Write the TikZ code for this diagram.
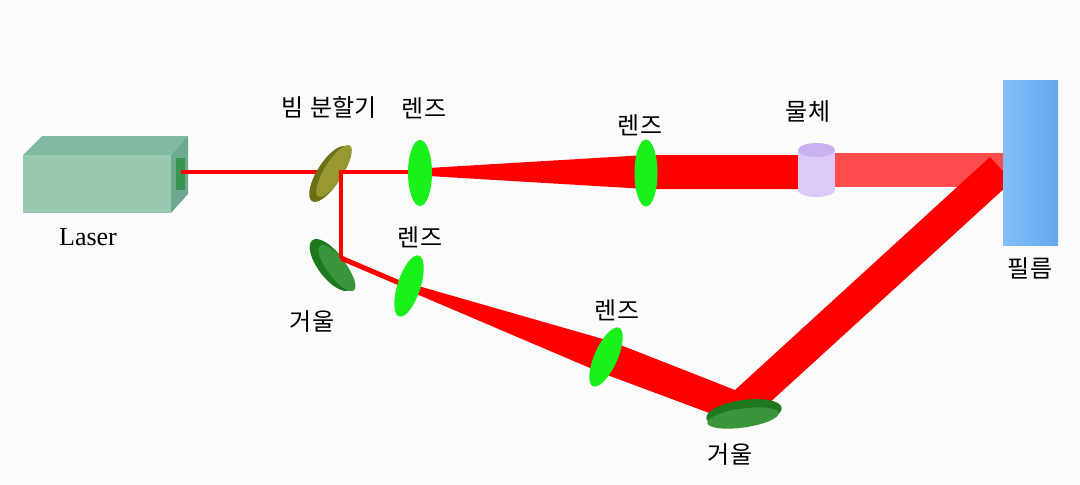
\documentclass[tikz,border=0pt]{standalone}
\usepackage{fontspec}
\setmainfont{Liberation Serif}
\newfontfamily\kr{Noto Sans CJK KR}
\usetikzlibrary{shapes.geometric}
\definecolor{bgc}{HTML}{FBFBFB}
\definecolor{laserfront}{HTML}{98CAB2}
\definecolor{lasertop}{HTML}{80BAA0}
\definecolor{laserside}{HTML}{6EAA90}
\definecolor{aper}{HTML}{349650}
\definecolor{bsfront}{HTML}{989830}
\definecolor{bsback}{HTML}{6E6E14}
\definecolor{mfront}{HTML}{3A963A}
\definecolor{mback}{HTML}{1E781E}
\definecolor{lensc}{HTML}{1AF01A}
\definecolor{objbody}{HTML}{DCCBF8}
\definecolor{objtop}{HTML}{C9B2F0}
\definecolor{filml}{HTML}{84BEF8}
\definecolor{filmr}{HTML}{62A8F0}
\definecolor{beamc}{HTML}{FF0000}
\definecolor{beamlight}{HTML}{FF4D4D}
\begin{document}
\begin{tikzpicture}[x=1pt,y=-1pt,
  lens/.style={ellipse,fill=lensc,draw=none,inner sep=0pt,minimum width=24pt,minimum height=66pt},
  disc/.style={ellipse,draw=none,inner sep=0pt},
  thinbeam/.style={draw=beamc,line width=4pt},
  krlabel/.style={font=\kr\fontsize{24}{24}\selectfont,inner sep=0pt},
  enlabel/.style={font=\fontsize{26}{26}\selectfont,inner sep=0pt}]
\useasboundingbox (0,0) rectangle (1080,485);
\fill[bgc] (0,0) rectangle (1080,485);

% laser housing
\fill[lasertop] (23,155) -- (42,136) -- (188,136) -- (171,155) -- cycle;
\fill[laserside] (171,155) -- (188,136) -- (188,194) -- (171,213) -- cycle;
\fill[laserfront] (23,155) rectangle (171,213);
\node[fill=aper,inner sep=0pt,minimum width=9pt,minimum height=32pt] (aperture) at (180.5,174) {};
\node[enlabel] (laserlbl) at (88,237) {Laser};

% beam path points
\coordinate (bs) at (341,172);
\coordinate (m1) at (341,258);
\coordinate (obj) at (816.5,170);

% laser to beam splitter
\draw[thinbeam] (aperture.center |- bs) -- (bs);

% beam splitter and first mirror (discs with visible rim)
\node[disc,fill=bsback,minimum width=64pt,minimum height=24pt,rotate=58] (bsback) at (329,174) {};
\node[disc,fill=bsfront,minimum width=60pt,minimum height=19pt,rotate=58] (bsplit) at (334,171) {};
\node[disc,fill=mback,minimum width=62pt,minimum height=26pt,rotate=-53] (m1back) at (331,265) {};
\node[disc,fill=mfront,minimum width=56pt,minimum height=19pt,rotate=-53] (mirror1) at (337,268) {};

% split beams
\draw[thinbeam] (420,172) -- (bs) -- (m1);
\draw[draw=beamc,line width=5pt,line join=miter] (m1) -- (409,287);

% upper arm: expanding cone, collimated beam, object, film
\fill[beamc] (420,168.5) -- (646,155) -- (800,155) -- (800,189) -- (646,189) -- (420,175.5) -- cycle;
\fill[beamlight] (834,153) rectangle (1006,187);

% lower arm: cone, collimated beam, second mirror, towards film
\fill[beamc] (410.2,283.7) -- (611.2,341.4) -- (600.8,372.6) -- (407.8,290.3) -- cycle;
\fill[beamc] (611.2,341.4) -- (735,390) -- (990,157) -- (1008,176.7) -- (1008,185.1)
  -- (767,405) -- (712,414) -- (600.8,372.6) -- cycle;

% lenses
\node[lens] (lensA) at (420,173) {};
\node[lens,minimum width=23pt,minimum height=67pt] (lensB) at (646,173) {};
\node[lens,minimum width=23pt,minimum height=64pt,rotate=-18] (lensC) at (409,286) {};
\node[lens,minimum width=23pt,minimum height=64pt,rotate=-24] (lensD) at (606,357) {};

% object
\fill[objbody] (798,150) rectangle (835,190);
\fill[objbody] (obj) ++(0,20) ellipse (18.5pt and 7pt);
\fill[objtop] (obj) ++(0,-20) ellipse (18.5pt and 7pt);

% second mirror
\node[disc,fill=mback,minimum width=76pt,minimum height=26pt,rotate=8] (m2back) at (744,413) {};
\node[disc,fill=mfront,minimum width=72pt,minimum height=19pt,rotate=8] (mirror2) at (743,418) {};

% film
\shade[left color=filml,right color=filmr] (1003,80) rectangle (1058,245);
\coordinate (film) at (1030,162);

% labels
\node[krlabel] (lblbs) at (329,107) {빔\hspace{7pt}분할기};
\node[krlabel] (lbllA) at (424,108) {렌즈};
\node[krlabel] (lbllB) at (640,125) {렌즈};
\node[krlabel] (lblobj) at (808,112) {물체};
\node[krlabel] (lbllC) at (420,237) {렌즈};
\node[krlabel] (lbllD) at (617,310) {렌즈};
\node[krlabel] (lblm1) at (312,322) {거울};
\node[krlabel] (lblm2) at (730,455) {거울};
\node[krlabel] (lblfilm) at (1030,268) {필름};
\end{tikzpicture}
\end{document}
